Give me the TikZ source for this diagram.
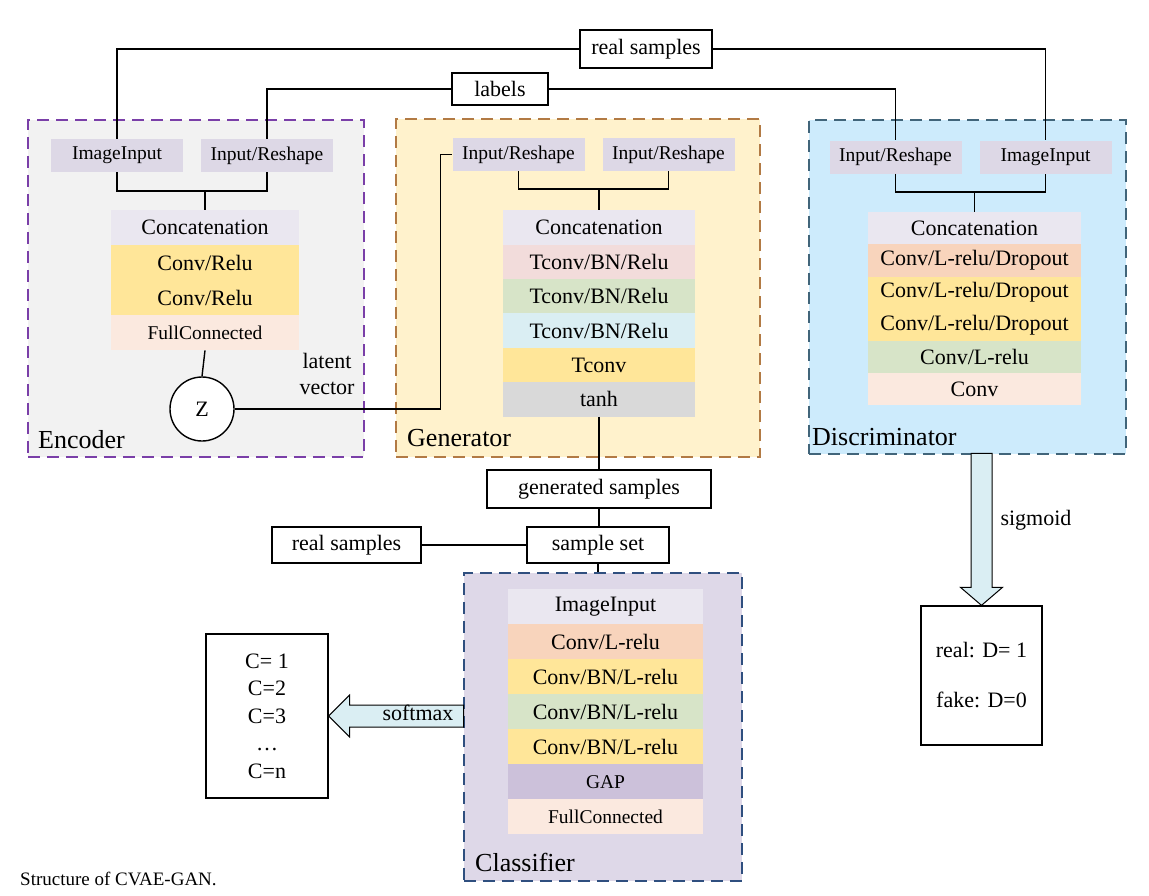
\documentclass[tikz,border=0pt]{standalone}
\usepackage{fontspec}
\setmainfont{Liberation Serif}
\definecolor{encfill}{HTML}{F2F2F2}
\definecolor{encline}{HTML}{7A3FA8}
\definecolor{genfill}{HTML}{FFF2CC}
\definecolor{genline}{HTML}{B27A44}
\definecolor{discfill}{HTML}{CDEBFC}
\definecolor{discline}{HTML}{41657A}
\definecolor{clsfill}{HTML}{DED8E8}
\definecolor{clsline}{HTML}{2F4F7F}
\definecolor{inputc}{HTML}{DDD8E6}
\definecolor{concatc}{HTML}{EAE7F0}
\definecolor{goldc}{HTML}{FFE699}
\definecolor{lpeachc}{HTML}{FBE9DF}
\definecolor{peachc}{HTML}{F8D4BC}
\definecolor{pinkc}{HTML}{F2DCDB}
\definecolor{greenc}{HTML}{D7E4C8}
\definecolor{skyc}{HTML}{DAEEF3}
\definecolor{greyc}{HTML}{D9D9D9}
\definecolor{gapc}{HTML}{CCC1DA}
\definecolor{arrowc}{HTML}{DAEEF3}
\tikzset{
    conn/.style={line width=1.4pt},
    netbox/.style={draw=#1, line width=1.8pt, dash pattern=on 12pt off 7pt, anchor=north west, inner sep=0pt},
    netlabel/.style={anchor=west, inner sep=0pt, font=\fontsize{26}{30}\selectfont},
    inbox/.style={fill=inputc, inner sep=0pt, minimum width=132, minimum height=33, font=\fontsize{19.5}{22}\selectfont},
    txtbox/.style={draw, line width=1.3pt, inner sep=0pt, font=\fontsize{22}{26}\selectfont},
    layer/.style={inner sep=0pt, anchor=north},
    fatarrow/.style={draw, line width=1pt, fill=arrowc, line join=miter},
}
\begin{document}
\begin{tikzpicture}[x=1pt, y=-1pt]
    \useasboundingbox (0,0) rectangle (1149,895);
    \node[netbox=encline, fill=encfill, minimum width=336, minimum height=337] (encoder) at (27,119) {};
    \node[netbox=genline, fill=genfill, minimum width=364, minimum height=338] (generator) at (395,118) {};
    \node[netbox=discline, fill=discfill, minimum width=317, minimum height=334] (discriminator) at (808,119) {};
    \node[netbox=clsline, fill=clsfill, minimum width=278, minimum height=308] (classifier) at (463,572) {};
    \node[netlabel] at (38,440) {Encoder};
    \node[netlabel] at (407,438) {Generator};
    \node[netlabel] at (812,437) {Discriminator};
    \node[netlabel] at (475,862) {Classifier};

    \node[inbox] (encIm) at (117,155.5) {ImageInput};
    \node[inbox] (encIR) at (267,155.5) {Input/Reshape};
    \node[inbox] (genIR1) at (518.5,154.5) {Input/Reshape};
    \node[inbox] (genIR2) at (668.5,154.5) {Input/Reshape};
    \node[inbox] (discIR) at (895.5,157) {Input/Reshape};
    \node[inbox] (discIm) at (1045.5,157) {ImageInput};

    \foreach \t/\c/\s [count=\i] in {Concatenation/concatc/22, {Conv/Relu}/goldc/22, {Conv/Relu}/goldc/22, FullConnected/lpeachc/19.5}
        \node[layer, fill=\c, font=\fontsize{\s}{\s}\selectfont, minimum width=188, minimum height=35] (enc\i) at (205,175+35*\i) {\t};
    \foreach \t/\c/\s [count=\i] in {Concatenation/concatc/22, {Tconv/BN/Relu}/pinkc/22, {Tconv/BN/Relu}/greenc/22, {Tconv/BN/Relu}/skyc/22, Tconv/goldc/22, tanh/greyc/22}
        \node[layer, fill=\c, font=\fontsize{\s}{\s}\selectfont, minimum width=192, minimum height=34.4] (gen\i) at (599,175.6+34.4*\i) {\t};
    \foreach \t/\c/\s [count=\i] in {Concatenation/concatc/22, {Conv/L-relu/Dropout}/peachc/22, {Conv/L-relu/Dropout}/goldc/22, {Conv/L-relu/Dropout}/goldc/22, {Conv/L-relu}/greenc/22, Conv/lpeachc/22}
        \node[layer, fill=\c, font=\fontsize{\s}{\s}\selectfont, minimum width=213, minimum height=32.2] (disc\i) at (974.5,179.8+32.2*\i) {\t};
    \foreach \t/\c/\s [count=\i] in {ImageInput/concatc/22, {Conv/L-relu}/peachc/22, {Conv/BN/L-relu}/goldc/22, {Conv/BN/L-relu}/greenc/22, {Conv/BN/L-relu}/goldc/22, GAP/gapc/19.5, FullConnected/lpeachc/19.5}
        \node[layer, fill=\c, font=\fontsize{\s}{\s}\selectfont, minimum width=195, minimum height=35] (cls\i) at (605.5,554+35*\i) {\t};

    \node[txtbox, minimum width=132, minimum height=38] (realtop) at (646,49) {real samples};
    \node[txtbox, minimum width=96, minimum height=32] (labels) at (500,89) {labels};
    \node[txtbox, minimum width=224, minimum height=38] (gensamp) at (599,489) {generated samples};
    \node[txtbox, minimum width=142, minimum height=36] (sampset) at (598,545) {sample set};
    \node[txtbox, minimum width=149, minimum height=36] (realbot) at (346.5,545) {real samples};
    \node[txtbox, minimum width=121, minimum height=139, align=center, font=\fontsize{22}{28}\selectfont] (realfake) at (981.5,675.5) {real: D= 1\\[22pt]fake: D=0};
    \node[txtbox, minimum width=122, minimum height=164, align=center, font=\fontsize{22}{27.5}\selectfont] (cbox) at (267,716) {C= 1\\C=2\\C=3\\…\\C=n};
    \node[circle, draw, line width=1.4pt, fill=white, minimum size=64, inner sep=0pt, font=\fontsize{22}{24}\selectfont] (z) at (202,409) {Z};
    \node[align=center, font=\fontsize{22}{26}\selectfont] at (327,374) {latent\\vector};

    \coordinate (encj) at ([yshift=19pt]enc1.north);
    \coordinate (genj) at ([yshift=21pt]gen1.north);
    \coordinate (discj) at ([yshift=20pt]disc1.north);
    \coordinate (zbend) at ([xshift=-12pt]genIR1.west);

    \draw[conn] (encIm.north) |- (realtop.west);
    \draw[conn] (realtop.east) -| (discIm.north);
    \draw[conn] (encIR.north) |- (labels.west);
    \draw[conn] (labels.east) -| (discIR.north);
    \draw[conn] (encIm.south) |- (encj) -| (encIR.south);
    \draw[conn] (encj) -- (enc1.north);
    \draw[conn] (genIR1.south) |- (genj) -| (genIR2.south);
    \draw[conn] (genj) -- (gen1.north);
    \draw[conn] (discIR.south) |- (discj) -| (discIm.south);
    \draw[conn] (discj) -- (disc1.north);
    \draw[conn] (enc4.south) -- (z.north);
    \draw[conn] (z.east) -| (zbend) -- (genIR1.west);
    \draw[conn] (gen6.south) -- (gensamp.north);
    \draw[conn] (gensamp.south) -- (gensamp.south |- sampset.north);
    \draw[conn] (realbot.east) -- (sampset.west);
    \draw[conn] (sampset.south) -- (sampset.south |- classifier.north);

    \draw[fatarrow] (realfake.north) -- ++(-21,-18) -- ++(10.5,0) -- ++(0,-134) -- ++(21,0) -- ++(0,134) -- ++(10.5,0) -- cycle;
    \node[font=\fontsize{22}{26}\selectfont] at (1036,520) {sigmoid};
    \draw[fatarrow] (cbox.east) -- ++(21,-21) -- ++(0,10) -- ++(114,0) -- ++(0,22) -- ++(-114,0) -- ++(0,10) -- cycle;
    \node[font=\fontsize{22}{26}\selectfont] at (418,713) {softmax};

    \node[anchor=west, inner sep=0pt, font=\fontsize{19}{22}\selectfont] at (20,879) {Structure of CVAE-GAN.};
\end{tikzpicture}
\end{document}
